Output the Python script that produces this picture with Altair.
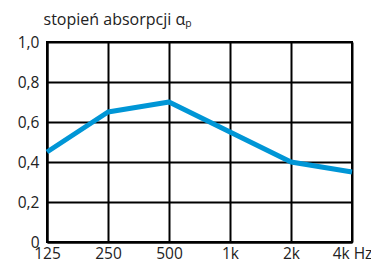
import altair as alt
import pandas as pd

freqs = ["125", "250", "500", "1k", "2k", "4k"]
alpha = [0.45, 0.65, 0.70, 0.55, 0.40, 0.35]

df = pd.DataFrame({"f": freqs, "a": alpha})

FONT = "Open Sans"

line = alt.Chart(df).mark_line(color="#0096d6", strokeWidth=5, strokeCap="butt", strokeJoin="round").encode(
    x=alt.X("f:N", sort=freqs, scale=alt.Scale(type="point", padding=0),
            axis=alt.Axis(title=None,
                          labelExpr="datum.value == '4k' ? '4k Hz' : datum.value",
                          labelAngle=0, labelFont=FONT, labelFontSize=15.5, labelColor="#222",
                          labelPadding=4, labelOverlap=False, labelBound=False,
                          ticks=False, grid=True, gridColor="#000", gridWidth=2,
                          domainColor="#000", domainWidth=2)),
    y=alt.Y("a:Q", scale=alt.Scale(domain=[0, 1]),
            axis=alt.Axis(values=[0, 0.2, 0.4, 0.6, 0.8, 1.0], format=".1f",
                          labelExpr="datum.value == 0 ? '0' : replace(format(datum.value, '.1f'), '.', ',')",
                          title="stopień absorpcji αₚ", titleAngle=0, titleX=-4, titleY=-18,
                          titleAlign="left", titleBaseline="alphabetic", titleFontWeight="normal",
                          titleFont=FONT, titleFontSize=16, titleColor="#222",
                          labelFont=FONT, labelFontSize=15.5, labelColor="#222", labelPadding=8,
                          ticks=False, grid=True, gridColor="#000", gridWidth=2,
                          domainColor="#000", domainWidth=2)),
)

chart = line.properties(
    width=305, height=200,
    autosize=alt.AutoSizeParams(type="none"),
    padding={"left": 39, "top": 34, "right": 19, "bottom": 26},
).configure_view(stroke="#000", strokeWidth=2)

chart.save("out.html", embed_options={"renderer": "svg", "actions": False})
